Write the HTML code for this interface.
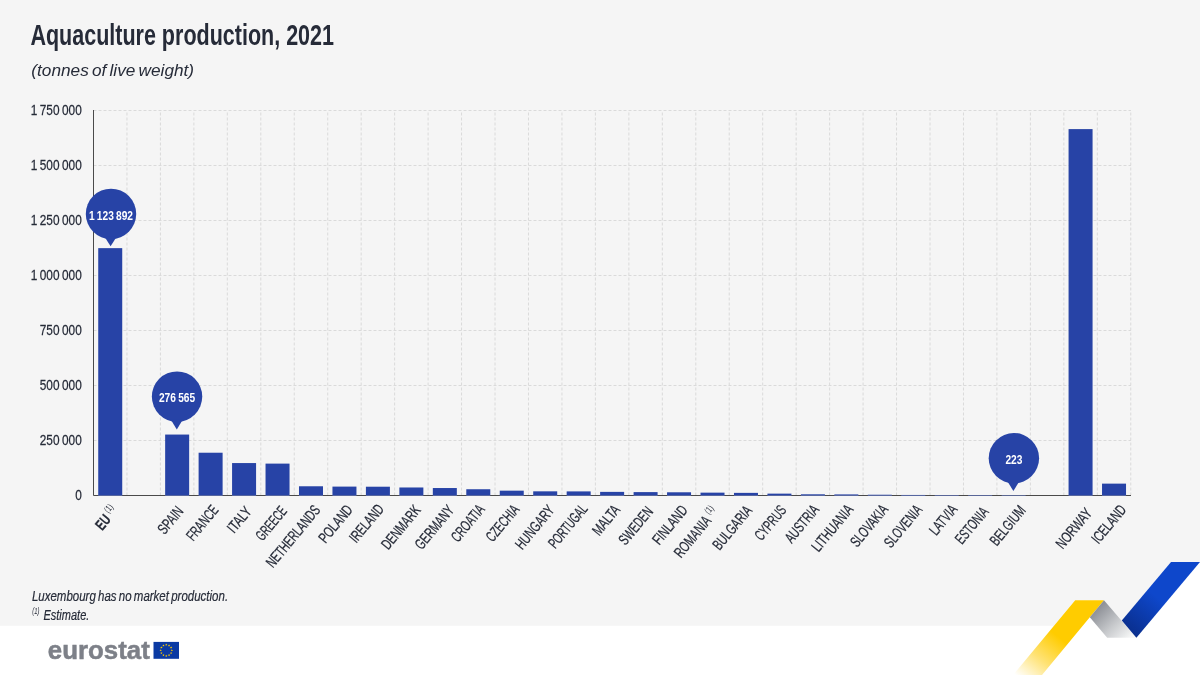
<!DOCTYPE html>
<html lang="en"><head><meta charset="utf-8"><title>Aquaculture production, 2021</title>
<style>html,body{margin:0;padding:0;background:#fff}body{width:1200px;height:675px;overflow:hidden}svg{display:block}text{font-family:"Liberation Sans",sans-serif}</style></head><body>
<svg width="1200" height="675" viewBox="0 0 1200 675">
<defs>
<linearGradient id="gy" gradientUnits="userSpaceOnUse" x1="1060.5" y1="638.5" x2="1025" y2="682.5"><stop offset="0" stop-color="#ffcc00"/><stop offset="0.5" stop-color="#ffe273"/><stop offset="1" stop-color="#ffffff"/></linearGradient>
<linearGradient id="gb" gradientUnits="userSpaceOnUse" x1="1156" y1="596" x2="1128" y2="630"><stop offset="0" stop-color="#0e47cb"/><stop offset="1" stop-color="#0a2f8e"/></linearGradient>
<linearGradient id="gg" gradientUnits="userSpaceOnUse" x1="1095" y1="606" x2="1128" y2="640"><stop offset="0" stop-color="#85888f"/><stop offset="0.55" stop-color="#c6c8cb"/><stop offset="1" stop-color="#f6f7f7"/></linearGradient>
</defs>
<rect width="1200" height="675" fill="#ffffff"/>
<polygon points="0,0 1200,0 1200,562 1171,562 1121.8,620.4 1104,600.3 1075.2,600.3 1054,625.8 0,625.8" fill="#f5f5f5"/>
<polygon points="1075.2,600.3 1104,600.3 1089.8,617.2 1042,675 1013.0,675" fill="url(#gy)"/>
<polygon points="1104,600.3 1136.4,637.7 1107.2,637.7 1089.8,617.2" fill="url(#gg)"/>
<polygon points="1171,562.1 1200,562.1 1136.4,637.7 1121.8,620.4" fill="url(#gb)"/>
<text x="30.4" y="44.9" font-size="29.3" font-weight="bold" fill="#262b38" textLength="303.6" lengthAdjust="spacingAndGlyphs">Aquaculture production, 2021</text>
<text x="31.3" y="75.9" font-size="17.1" font-style="italic" word-spacing="-1.6" fill="#262b38" textLength="162.8" lengthAdjust="spacingAndGlyphs">(tonnes of live weight)</text>
<path d="M93.5,110.5H1131 M93.5,165.5H1131 M93.5,220.5H1131 M93.5,275.5H1131 M93.5,330.5H1131 M93.5,385.5H1131 M93.5,440.5H1131 M126.96,112.5V495.0 M160.42,112.5V495.0 M193.88,112.5V495.0 M227.34,112.5V495.0 M260.80,112.5V495.0 M294.26,112.5V495.0 M327.72,112.5V495.0 M361.18,112.5V495.0 M394.64,112.5V495.0 M428.10,112.5V495.0 M461.56,112.5V495.0 M495.02,112.5V495.0 M528.48,112.5V495.0 M561.94,112.5V495.0 M595.40,112.5V495.0 M628.86,112.5V495.0 M662.32,112.5V495.0 M695.78,112.5V495.0 M729.24,112.5V495.0 M762.70,112.5V495.0 M796.16,112.5V495.0 M829.62,112.5V495.0 M863.08,112.5V495.0 M896.54,112.5V495.0 M930.00,112.5V495.0 M963.46,112.5V495.0 M996.92,112.5V495.0 M1030.38,112.5V495.0 M1063.84,112.5V495.0 M1097.30,112.5V495.0 M1130.76,112.5V495.0" fill="none" stroke="#dadada" stroke-width="1" stroke-dasharray="3 2"/>
<text transform="translate(81.8,115.1) scale(0.775,1)" word-spacing="-1.0" text-anchor="end" font-size="15.3" fill="#262b38" stroke="#262b38" stroke-width="0.25">1 750 000</text>
<text transform="translate(81.8,170.1) scale(0.775,1)" word-spacing="-1.0" text-anchor="end" font-size="15.3" fill="#262b38" stroke="#262b38" stroke-width="0.25">1 500 000</text>
<text transform="translate(81.8,225.1) scale(0.775,1)" word-spacing="-1.0" text-anchor="end" font-size="15.3" fill="#262b38" stroke="#262b38" stroke-width="0.25">1 250 000</text>
<text transform="translate(81.8,280.1) scale(0.775,1)" word-spacing="-1.0" text-anchor="end" font-size="15.3" fill="#262b38" stroke="#262b38" stroke-width="0.25">1 000 000</text>
<text transform="translate(81.8,335.1) scale(0.775,1)" word-spacing="-1.0" text-anchor="end" font-size="15.3" fill="#262b38" stroke="#262b38" stroke-width="0.25">750 000</text>
<text transform="translate(81.8,390.1) scale(0.775,1)" word-spacing="-1.0" text-anchor="end" font-size="15.3" fill="#262b38" stroke="#262b38" stroke-width="0.25">500 000</text>
<text transform="translate(81.8,445.1) scale(0.775,1)" word-spacing="-1.0" text-anchor="end" font-size="15.3" fill="#262b38" stroke="#262b38" stroke-width="0.25">250 000</text>
<text transform="translate(81.8,500.1) scale(0.775,1)" word-spacing="-1.0" text-anchor="end" font-size="15.3" fill="#262b38" stroke="#262b38" stroke-width="0.25">0</text>
<path d="M93.5,110V495.5H1131" fill="none" stroke="#4a4a4a" stroke-width="1"/>
<rect x="98.23" y="248.14" width="24" height="247.26" fill="#2743a6"/><rect x="98.23" y="495.40" width="24" height="0.6" fill="#6a7cc0"/>
<rect x="165.15" y="434.56" width="24" height="60.84" fill="#2743a6"/><rect x="165.15" y="495.40" width="24" height="0.6" fill="#6a7cc0"/>
<rect x="198.61" y="452.72" width="24" height="42.68" fill="#2743a6"/><rect x="198.61" y="495.40" width="24" height="0.6" fill="#6a7cc0"/>
<rect x="232.07" y="463.06" width="24" height="32.34" fill="#2743a6"/><rect x="232.07" y="495.40" width="24" height="0.6" fill="#6a7cc0"/>
<rect x="265.53" y="463.61" width="24" height="31.79" fill="#2743a6"/><rect x="265.53" y="495.40" width="24" height="0.6" fill="#6a7cc0"/>
<rect x="298.99" y="486.27" width="24" height="9.13" fill="#2743a6"/><rect x="298.99" y="495.40" width="24" height="0.6" fill="#6a7cc0"/>
<rect x="332.45" y="486.60" width="24" height="8.80" fill="#2743a6"/><rect x="332.45" y="495.40" width="24" height="0.6" fill="#6a7cc0"/>
<rect x="365.91" y="486.71" width="24" height="8.69" fill="#2743a6"/><rect x="365.91" y="495.40" width="24" height="0.6" fill="#6a7cc0"/>
<rect x="399.37" y="487.48" width="24" height="7.92" fill="#2743a6"/><rect x="399.37" y="495.40" width="24" height="0.6" fill="#6a7cc0"/>
<rect x="432.83" y="488.03" width="24" height="7.37" fill="#2743a6"/><rect x="432.83" y="495.40" width="24" height="0.6" fill="#6a7cc0"/>
<rect x="466.29" y="489.24" width="24" height="6.16" fill="#2743a6"/><rect x="466.29" y="495.40" width="24" height="0.6" fill="#6a7cc0"/>
<rect x="499.75" y="490.67" width="24" height="4.73" fill="#2743a6"/><rect x="499.75" y="495.40" width="24" height="0.6" fill="#6a7cc0"/>
<rect x="533.21" y="491.33" width="24" height="4.07" fill="#2743a6"/><rect x="533.21" y="495.40" width="24" height="0.6" fill="#6a7cc0"/>
<rect x="566.67" y="491.40" width="24" height="4.00" fill="#2743a6"/><rect x="566.67" y="495.40" width="24" height="0.6" fill="#6a7cc0"/>
<rect x="600.13" y="491.88" width="24" height="3.52" fill="#2743a6"/><rect x="600.13" y="495.40" width="24" height="0.6" fill="#6a7cc0"/>
<rect x="633.59" y="492.10" width="24" height="3.30" fill="#2743a6"/><rect x="633.59" y="495.40" width="24" height="0.6" fill="#6a7cc0"/>
<rect x="667.05" y="492.28" width="24" height="3.12" fill="#2743a6"/><rect x="667.05" y="495.40" width="24" height="0.6" fill="#6a7cc0"/>
<rect x="700.51" y="492.65" width="24" height="2.75" fill="#2743a6"/><rect x="700.51" y="495.40" width="24" height="0.6" fill="#6a7cc0"/>
<rect x="733.97" y="492.87" width="24" height="2.53" fill="#2743a6"/><rect x="733.97" y="495.40" width="24" height="0.6" fill="#6a7cc0"/>
<rect x="767.43" y="493.64" width="24" height="1.76" fill="#2743a6"/><rect x="767.43" y="495.40" width="24" height="0.6" fill="#6a7cc0"/>
<rect x="800.89" y="494.30" width="24" height="1.10" fill="#2743a6"/><rect x="800.89" y="495.40" width="24" height="0.6" fill="#6a7cc0"/>
<rect x="834.35" y="494.41" width="24" height="0.99" fill="#2743a6"/><rect x="834.35" y="495.40" width="24" height="0.6" fill="#6a7cc0"/>
<rect x="867.81" y="494.74" width="24" height="0.66" fill="#2743a6"/><rect x="867.81" y="495.40" width="24" height="0.6" fill="#6a7cc0"/>
<rect x="901.27" y="494.96" width="24" height="0.44" fill="#2743a6"/><rect x="901.27" y="495.40" width="24" height="0.6" fill="#6a7cc0"/>
<rect x="934.73" y="495.20" width="24" height="0.20" fill="#2743a6"/><rect x="934.73" y="495.40" width="24" height="0.6" fill="#6a7cc0"/>
<rect x="968.19" y="495.21" width="24" height="0.19" fill="#2743a6"/><rect x="968.19" y="495.40" width="24" height="0.6" fill="#6a7cc0"/>
<rect x="1001.65" y="495.35" width="24" height="0.05" fill="#2743a6"/><rect x="1001.65" y="495.40" width="24" height="0.6" fill="#6a7cc0"/>
<rect x="1068.57" y="129.10" width="24" height="366.30" fill="#2743a6"/><rect x="1068.57" y="495.40" width="24" height="0.6" fill="#6a7cc0"/>
<rect x="1102.03" y="483.63" width="24" height="11.77" fill="#2743a6"/><rect x="1102.03" y="495.40" width="24" height="0.6" fill="#6a7cc0"/>
<text transform="translate(111.50,519.90) rotate(-50.3) scale(0.6921,1)" text-anchor="end" font-size="15.2" font-weight="bold" fill="#262b38" stroke="#262b38" stroke-width="0.25">EU</text>
<text transform="translate(111.50,519.90) rotate(-50.3) translate(11.2,-6.5) scale(0.72,1)" text-anchor="end" font-size="9.5" fill="#262b38">(1)</text>
<text transform="translate(184.15,511.60) rotate(-50.3) scale(0.6895,1)" text-anchor="end" font-size="15.2" fill="#262b38" stroke="#262b38" stroke-width="0.25">SPAIN</text>
<text transform="translate(219.21,510.50) rotate(-50.3) scale(0.6522,1)" text-anchor="end" font-size="15.2" fill="#262b38" stroke="#262b38" stroke-width="0.25">FRANCE</text>
<text transform="translate(252.37,511.90) rotate(-50.3) scale(0.7148,1)" text-anchor="end" font-size="15.2" fill="#262b38" stroke="#262b38" stroke-width="0.25">ITALY</text>
<text transform="translate(287.63,511.60) rotate(-50.3) scale(0.6109,1)" text-anchor="end" font-size="15.2" fill="#262b38" stroke="#262b38" stroke-width="0.25">GREECE</text>
<text transform="translate(321.09,510.50) rotate(-50.3) scale(0.6663,1)" text-anchor="end" font-size="15.2" fill="#262b38" stroke="#262b38" stroke-width="0.25">NETHERLANDS</text>
<text transform="translate(353.55,510.20) rotate(-50.3) scale(0.7027,1)" text-anchor="end" font-size="15.2" fill="#262b38" stroke="#262b38" stroke-width="0.25">POLAND</text>
<text transform="translate(384.71,509.50) rotate(-50.3) scale(0.6755,1)" text-anchor="end" font-size="15.2" fill="#262b38" stroke="#262b38" stroke-width="0.25">IRELAND</text>
<text transform="translate(421.47,510.50) rotate(-50.3) scale(0.6867,1)" text-anchor="end" font-size="15.2" fill="#262b38" stroke="#262b38" stroke-width="0.25">DENMARK</text>
<text transform="translate(454.93,510.50) rotate(-50.3) scale(0.6758,1)" text-anchor="end" font-size="15.2" fill="#262b38" stroke="#262b38" stroke-width="0.25">GERMANY</text>
<text transform="translate(485.49,509.80) rotate(-50.3) scale(0.6479,1)" text-anchor="end" font-size="15.2" fill="#262b38" stroke="#262b38" stroke-width="0.25">CROATIA</text>
<text transform="translate(520.05,509.90) rotate(-50.3) scale(0.6384,1)" text-anchor="end" font-size="15.2" fill="#262b38" stroke="#262b38" stroke-width="0.25">CZECHIA</text>
<text transform="translate(555.31,510.50) rotate(-50.3) scale(0.6863,1)" text-anchor="end" font-size="15.2" fill="#262b38" stroke="#262b38" stroke-width="0.25">HUNGARY</text>
<text transform="translate(588.47,509.20) rotate(-50.3) scale(0.6258,1)" text-anchor="end" font-size="15.2" fill="#262b38" stroke="#262b38" stroke-width="0.25">PORTUGAL</text>
<text transform="translate(620.93,510.20) rotate(-50.3) scale(0.7042,1)" text-anchor="end" font-size="15.2" fill="#262b38" stroke="#262b38" stroke-width="0.25">MALTA</text>
<text transform="translate(653.79,512.00) rotate(-50.3) scale(0.6617,1)" text-anchor="end" font-size="15.2" fill="#262b38" stroke="#262b38" stroke-width="0.25">SWEDEN</text>
<text transform="translate(688.45,510.50) rotate(-50.3) scale(0.7058,1)" text-anchor="end" font-size="15.2" fill="#262b38" stroke="#262b38" stroke-width="0.25">FINLAND</text>
<text transform="translate(712.00,521.20) rotate(-50.3) scale(0.6872,1)" text-anchor="end" font-size="15.2" fill="#262b38" stroke="#262b38" stroke-width="0.25">ROMANIA</text>
<text transform="translate(712.00,521.20) rotate(-50.3) translate(11.2,-6.5) scale(0.72,1)" text-anchor="end" font-size="9.5" fill="#262b38">(1)</text>
<text transform="translate(752.87,510.90) rotate(-50.3) scale(0.6784,1)" text-anchor="end" font-size="15.2" fill="#262b38" stroke="#262b38" stroke-width="0.25">BULGARIA</text>
<text transform="translate(787.23,510.50) rotate(-50.3) scale(0.6365,1)" text-anchor="end" font-size="15.2" fill="#262b38" stroke="#262b38" stroke-width="0.25">CYPRUS</text>
<text transform="translate(819.79,510.10) rotate(-50.3) scale(0.6685,1)" text-anchor="end" font-size="15.2" fill="#262b38" stroke="#262b38" stroke-width="0.25">AUSTRIA</text>
<text transform="translate(854.15,509.80) rotate(-50.3) scale(0.7056,1)" text-anchor="end" font-size="15.2" fill="#262b38" stroke="#262b38" stroke-width="0.25">LITHUANIA</text>
<text transform="translate(888.71,509.90) rotate(-50.3) scale(0.6685,1)" text-anchor="end" font-size="15.2" fill="#262b38" stroke="#262b38" stroke-width="0.25">SLOVAKIA</text>
<text transform="translate(922.97,510.20) rotate(-50.3) scale(0.6573,1)" text-anchor="end" font-size="15.2" fill="#262b38" stroke="#262b38" stroke-width="0.25">SLOVENIA</text>
<text transform="translate(958.13,509.70) rotate(-50.3) scale(0.6709,1)" text-anchor="end" font-size="15.2" fill="#262b38" stroke="#262b38" stroke-width="0.25">LATVIA</text>
<text transform="translate(989.29,512.20) rotate(-50.3) scale(0.6422,1)" text-anchor="end" font-size="15.2" fill="#262b38" stroke="#262b38" stroke-width="0.25">ESTONIA</text>
<text transform="translate(1026.45,511.00) rotate(-50.3) scale(0.6797,1)" text-anchor="end" font-size="15.2" fill="#262b38" stroke="#262b38" stroke-width="0.25">BELGIUM</text>
<text transform="translate(1092.77,513.50) rotate(-50.3) scale(0.7077,1)" text-anchor="end" font-size="15.2" fill="#262b38" stroke="#262b38" stroke-width="0.25">NORWAY</text>
<text transform="translate(1127.13,510.20) rotate(-50.3) scale(0.6833,1)" text-anchor="end" font-size="15.2" fill="#262b38" stroke="#262b38" stroke-width="0.25">ICELAND</text>
<circle cx="111.0" cy="213.9" r="25.2" fill="#2743a6"/>
<polygon points="104.39999999999999,236.6 116.8,236.6 110.6,246.3" fill="#2743a6"/>
<text transform="translate(111.0,219.6) scale(0.81,1)" word-spacing="-0.8" text-anchor="middle" font-size="12.6" font-weight="bold" fill="#ffffff">1 123 892</text>
<circle cx="177.05" cy="396.6" r="25.2" fill="#2743a6"/>
<polygon points="170.60000000000002,419.3 183.0,419.3 176.8,429.4" fill="#2743a6"/>
<text transform="translate(177.05,402.3) scale(0.81,1)" word-spacing="-0.8" text-anchor="middle" font-size="12.6" font-weight="bold" fill="#ffffff">276 565</text>
<circle cx="1013.9" cy="458.2" r="25.2" fill="#2743a6"/>
<polygon points="1007.1999999999999,480.9 1019.6,480.9 1013.4,491.1" fill="#2743a6"/>
<text transform="translate(1013.9,463.9) scale(0.81,1)" word-spacing="-0.8" text-anchor="middle" font-size="12.6" font-weight="bold" fill="#ffffff">223</text>
<text x="31.9" y="600.7" font-size="14" font-style="italic" word-spacing="-1.2" fill="#262b38" stroke="#262b38" stroke-width="0.2" textLength="196.2" lengthAdjust="spacingAndGlyphs">Luxembourg has no market production.</text>
<text x="32.3" y="614.3" font-size="9" font-style="italic" fill="#262b38" textLength="7.2" lengthAdjust="spacingAndGlyphs">(1)</text>
<text x="43.5" y="619.8" font-size="14" font-style="italic" fill="#262b38" stroke="#262b38" stroke-width="0.2" textLength="45.8" lengthAdjust="spacingAndGlyphs">Estimate.</text>
<text x="47.8" y="658.7" font-size="26.5" font-weight="bold" fill="#7d8088" stroke="#7d8088" stroke-width="0.5" textLength="102" lengthAdjust="spacingAndGlyphs">eurostat</text>
<rect x="153.5" y="641.9" width="25.5" height="16.9" fill="#0b3aa3"/>
<g fill="#ffcc00"><polygon points="166.25,643.40 166.54,644.30 167.49,644.30 166.73,644.85 167.01,645.75 166.25,645.20 165.49,645.75 165.77,644.85 165.01,644.30 165.96,644.30"/><polygon points="169.05,644.15 169.34,645.05 170.29,645.05 169.53,645.60 169.81,646.50 169.05,645.95 168.29,646.50 168.57,645.60 167.81,645.05 168.76,645.05"/><polygon points="171.10,646.20 171.39,647.10 172.34,647.10 171.58,647.65 171.86,648.55 171.10,648.00 170.34,648.55 170.62,647.65 169.86,647.10 170.81,647.10"/><polygon points="171.85,649.00 172.14,649.90 173.09,649.90 172.33,650.45 172.61,651.35 171.85,650.80 171.09,651.35 171.37,650.45 170.61,649.90 171.56,649.90"/><polygon points="171.10,651.80 171.39,652.70 172.34,652.70 171.58,653.25 171.86,654.15 171.10,653.60 170.34,654.15 170.62,653.25 169.86,652.70 170.81,652.70"/><polygon points="169.05,653.85 169.34,654.75 170.29,654.75 169.53,655.30 169.81,656.20 169.05,655.65 168.29,656.20 168.57,655.30 167.81,654.75 168.76,654.75"/><polygon points="166.25,654.60 166.54,655.50 167.49,655.50 166.73,656.05 167.01,656.95 166.25,656.40 165.49,656.95 165.77,656.05 165.01,655.50 165.96,655.50"/><polygon points="163.45,653.85 163.74,654.75 164.69,654.75 163.93,655.30 164.21,656.20 163.45,655.65 162.69,656.20 162.97,655.30 162.21,654.75 163.16,654.75"/><polygon points="161.40,651.80 161.69,652.70 162.64,652.70 161.88,653.25 162.16,654.15 161.40,653.60 160.64,654.15 160.92,653.25 160.16,652.70 161.11,652.70"/><polygon points="160.65,649.00 160.94,649.90 161.89,649.90 161.13,650.45 161.41,651.35 160.65,650.80 159.89,651.35 160.17,650.45 159.41,649.90 160.36,649.90"/><polygon points="161.40,646.20 161.69,647.10 162.64,647.10 161.88,647.65 162.16,648.55 161.40,648.00 160.64,648.55 160.92,647.65 160.16,647.10 161.11,647.10"/><polygon points="163.45,644.15 163.74,645.05 164.69,645.05 163.93,645.60 164.21,646.50 163.45,645.95 162.69,646.50 162.97,645.60 162.21,645.05 163.16,645.05"/></g>
</svg></body></html>
